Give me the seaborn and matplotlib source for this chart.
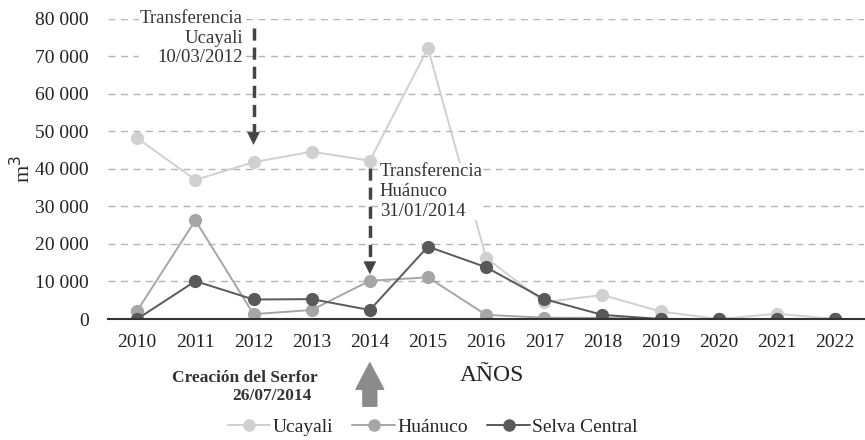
import numpy as np
import matplotlib.pyplot as plt
from matplotlib.lines import Line2D
import pandas as pd
import seaborn as sns

# Data (m3 per year)
years = [2010, 2011, 2012, 2013, 2014, 2015, 2016, 2017, 2018, 2019, 2020, 2021, 2022]
ucayali = [48200, 37100, 41800, 44600, 42200, 72200, 16300, 4500, 6400, 2000, 0, 1400, 0]
huanuco = [2200, 26300, 1300, 2400, 10200, 11100, 1100, 350, 300, 0, 0, 0, 0]
selva_central = [0, 10100, 5200, 5300, 2400, 19300, 13800, 5300, 1100, 0, 0, 0, 0]

regions = ["Ucayali", "Huánuco", "Selva Central"]
colors = ["#d0d0d0", "#a6a6a6", "#595959"]

df = pd.DataFrame({
    "year": years * 3,
    "value": ucayali + huanuco + selva_central,
    "region": [regions[0]] * len(years) + [regions[1]] * len(years) + [regions[2]] * len(years),
})

sns.set_theme(style="white")
plt.rcParams['font.family'] = ['Liberation Serif', 'DejaVu Serif']

fig = plt.figure(figsize=(8.65, 4.4), dpi=100)
ax = fig.add_axes([0.125, 0.275, 0.874, 0.682])

# grid
for v in range(10000, 80001, 10000):
    ax.axhline(v, color="#b4b4b4", lw=1, ls=(0, (5, 4)), zorder=0)

sns.lineplot(data=df, x="year", y="value", hue="region", hue_order=regions,
             palette=colors, marker="o", markersize=9.5, markeredgewidth=0,
             linewidth=1.4, ax=ax, legend=False, zorder=3)

ax.set_xlim(2009.5, 2022.5)
ax.set_ylim(0, 80000)
ax.set_xticks(years)
ax.set_xticklabels([str(y) for y in years])
ax.set_yticks(range(0, 80001, 10000))
ax.set_yticklabels(["0"] + ["{} 000".format(v // 1000) for v in range(10000, 80001, 10000)])
ax.tick_params(axis="both", labelsize=14, length=0, colors="#222222")
ax.tick_params(axis="x", pad=11)
ax.tick_params(axis="y", pad=14)

for s in ["left", "right", "top"]:
    ax.spines[s].set_visible(False)
ax.spines["bottom"].set_color("#333333")
ax.spines["bottom"].set_linewidth(1.5)
ax.spines["bottom"].set_zorder(5)

ax.set_xlabel("")
ax.set_ylabel("m$^3$", fontsize=16, labelpad=0)

# Annotation: Transferencia Ucayali
arrow_col = "#444444"
ax.plot([2012, 2012], [77600, 48500], color=arrow_col, lw=2.5, ls=(0, (3.5, 2)), zorder=4)
ax.annotate("", xy=(2012, 45700), xytext=(2012, 49500),
            arrowprops=dict(arrowstyle="-|>,head_width=0.35,head_length=0.7", color=arrow_col, lw=0.5), zorder=4)
ax.text(2011.82, 82400, "Transferencia\nUcayali\n10/03/2012", ha="right", va="top",
        fontsize=13.5, color="#333333", linespacing=1.2,
        bbox=dict(facecolor="white", edgecolor="none", pad=0.5), zorder=4)

# Annotation: Transferencia Huánuco
ax.plot([2014, 2014], [40300, 14000], color=arrow_col, lw=2.5, ls=(0, (3.5, 2)), zorder=4)
ax.annotate("", xy=(2014, 11200), xytext=(2014, 15000),
            arrowprops=dict(arrowstyle="-|>,head_width=0.35,head_length=0.7", color=arrow_col, lw=0.5), zorder=4)
ax.text(2014.17, 41500, "Transferencia\nHuánuco\n31/01/2014", ha="left", va="top",
        fontsize=13.5, color="#333333", linespacing=1.2,
        bbox=dict(facecolor="white", edgecolor="none", pad=0.5), zorder=4)

# Below the axis: Serfor creation
ax.annotate("", xy=(2014, -0.137), xytext=(2014, -0.30),
            xycoords=("data", "axes fraction"), textcoords=("data", "axes fraction"),
            arrowprops=dict(arrowstyle="simple,head_width=1.0,head_length=0.95,tail_width=0.5",
                            color="#8c8c8c", mutation_scale=20))
ax.text(2013.1, -0.197, "Creación del Serfor", transform=ax.get_xaxis_transform(),
        ha="right", va="center", fontsize=12.5, fontweight="bold", color="#333333")
ax.text(2013.0, -0.255, "26/07/2014", transform=ax.get_xaxis_transform(),
        ha="right", va="center", fontsize=12.5, fontweight="bold", color="#333333")

ax.text(2016.1, -0.187, "AÑOS", transform=ax.get_xaxis_transform(),
        ha="center", va="center", fontsize=17, color="#222222")

handles = [Line2D([0], [0], color=c, marker="o", markersize=9, markeredgewidth=0, lw=1.4)
           for c in colors]
fig.legend(handles, regions, loc="lower center", bbox_to_anchor=(0.5, -0.03), ncol=3,
           frameon=False, fontsize=14, handlelength=2.2, handletextpad=0.1, columnspacing=1.0)

plt.savefig("out.png", dpi=100)
